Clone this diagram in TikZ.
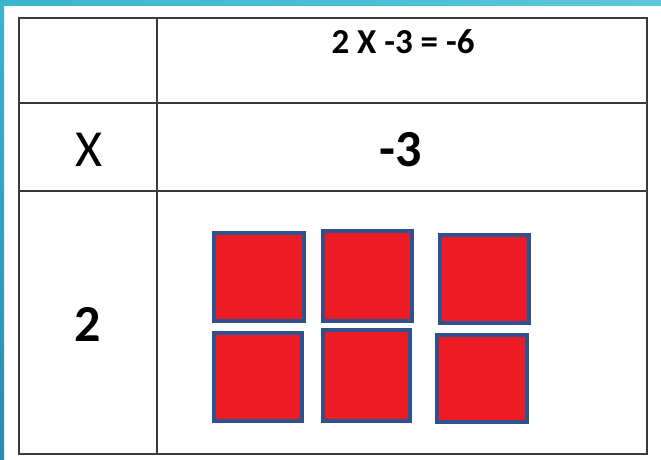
\documentclass[tikz,border=0pt]{standalone}
\usepackage{fontspec}
\setmainfont{Carlito}
\definecolor{cyanL}{HTML}{3AB5CE}
\definecolor{cyanR}{HTML}{5CC6DB}
\definecolor{cyanD}{HTML}{2A8DAE}
\definecolor{gridc}{HTML}{3A3A3A}
\definecolor{tilered}{HTML}{ED1C24}
\definecolor{tileblue}{HTML}{2F528F}
\begin{document}
\begin{tikzpicture}[x=1pt,y=-1pt,
  tile/.style={draw=tileblue,line width=4pt,fill=tilered,rectangle,inner sep=0pt},
  gridline/.style={draw=gridc,line width=2pt},
  lbl/.style={inner sep=0pt,anchor=center}]
\useasboundingbox (0,0) rectangle (661,459);
% cyan frame
\shade[left color=cyanL,right color=cyanR] (0,0) rectangle (661,5);
\shade[top color=cyanL,bottom color=cyanD] (0,0) rectangle (4,459);
% table
\draw[gridline] (19,18) rectangle (647,454);
\draw[gridline] (157,18) -- (157,454);
\draw[gridline] (19,103) -- (647,103);
\draw[gridline] (19,191) -- (647,191);
% texts
\node[lbl] (eq) at (403,42) {\fontsize{35}{35}\selectfont\bfseries 2 X -3 = -6};
\node[lbl] (x) at (88.5,150) {\fontsize{52}{52}\selectfont X};
\node[lbl] (m3) at (401,150) {\fontsize{52}{52}\selectfont\bfseries -3};
\node[lbl] (two) at (88,324.5) {\fontsize{52}{52}\selectfont\bfseries 2};
% tiles
\node[tile,minimum width=90pt,minimum height=88pt] (s1) at (259,277) {};
\node[tile,minimum width=89pt,minimum height=90pt] (s2) at (367.5,276) {};
\node[tile,minimum width=89pt,minimum height=88pt] (s3) at (484.5,279) {};
\node[tile,minimum width=88pt,minimum height=88pt] (s4) at (258,377) {};
\node[tile,minimum width=87pt,minimum height=91pt] (s5) at (366.5,375.5) {};
\node[tile,minimum width=90pt,minimum height=87pt] (s6) at (482,378.5) {};
\end{tikzpicture}
\end{document}
